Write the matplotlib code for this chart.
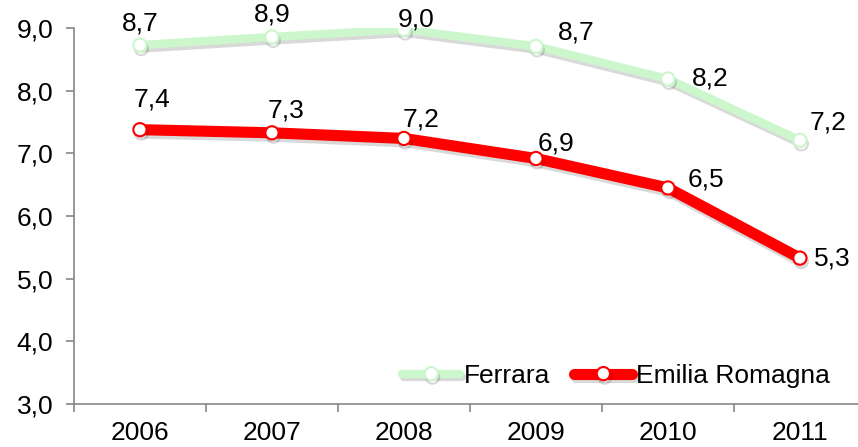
import matplotlib
matplotlib.use('Agg')
import matplotlib.pyplot as plt
import matplotlib.patheffects as pe
import numpy as np

plt.rcParams['font.family'] = ['Liberation Sans', 'DejaVu Sans']

years = ['2006', '2007', '2008', '2009', '2010', '2011']
ferrara = [8.73, 8.86, 8.98, 8.71, 8.19, 7.21]
emilia = [7.38, 7.33, 7.24, 6.92, 6.45, 5.33]

# label offsets in pixels (dx, dy) to mimic the Excel placement
off_ferrara = [(0, 22), (0, 22), (12, 10), (40, 14), (42, 0), (28, 18)]
off_emilia = [(12, 30), (14, 22), (17, 19), (20, 15), (38, 8), (32, 0)]

fig = plt.figure(figsize=(8.58, 4.47), dpi=100)
ax = fig.add_axes([0.0862, 0.096, 0.923, 0.841])

x = np.arange(len(years))
shadow = [pe.SimpleLineShadow(offset=(1, -2.5), alpha=0.15, shadow_color='black'), pe.Normal()]

ax.plot(x, ferrara, color='#ccf7cc', lw=6, marker='o', ms=9.5, mfc='white',
        mec='#ccf7cc', mew=1.5, label='Ferrara', path_effects=shadow, solid_capstyle='round')
ax.plot(x, emilia, color='#ff0000', lw=8, marker='o', ms=9.5, mfc='white',
        mec='#ff0000', mew=1.5, label='Emilia Romagna', path_effects=shadow, solid_capstyle='round')

def fmt(v):
    return f'{v:.1f}'.replace('.', ',')

for xi, v, o in zip(x, ferrara, off_ferrara):
    ax.annotate(fmt(v), (xi, v), xytext=(o[0] * 0.72, o[1] * 0.72), textcoords='offset points',
                ha='center', va='center', fontsize=19)
for xi, v, o in zip(x, emilia, off_emilia):
    ax.annotate(fmt(v), (xi, v), xytext=(o[0] * 0.72, o[1] * 0.72), textcoords='offset points',
                ha='center', va='center', fontsize=19)

ax.set_xlim(-0.5, 5.5)
ax.set_ylim(3, 9)
ax.set_yticks(np.arange(3, 9.1, 1))
ax.set_yticklabels([fmt(v) for v in np.arange(3, 9.1, 1)], fontsize=19)
ax.set_xticks(x)
ax.set_xticklabels(years, fontsize=19)
ax.set_xticks(np.arange(-0.5, 5.6, 1), minor=True)
ax.tick_params(axis='x', which='major', length=0, pad=12)
ax.tick_params(axis='x', which='minor', length=6, color='#868686', width=1.2)
ax.tick_params(axis='y', length=6, color='#868686', width=1.2, pad=9)

for s in ['top', 'right']:
    ax.spines[s].set_visible(False)
for s in ['left', 'bottom']:
    ax.spines[s].set_color('#868686')
    ax.spines[s].set_linewidth(1.2)

ax.legend(loc='lower right', bbox_to_anchor=(0.985, -0.02), ncol=2, frameon=False,
          fontsize=19, handlelength=2.2, handletextpad=0.15, columnspacing=0.9)

fig.savefig('out.png', dpi=100)
